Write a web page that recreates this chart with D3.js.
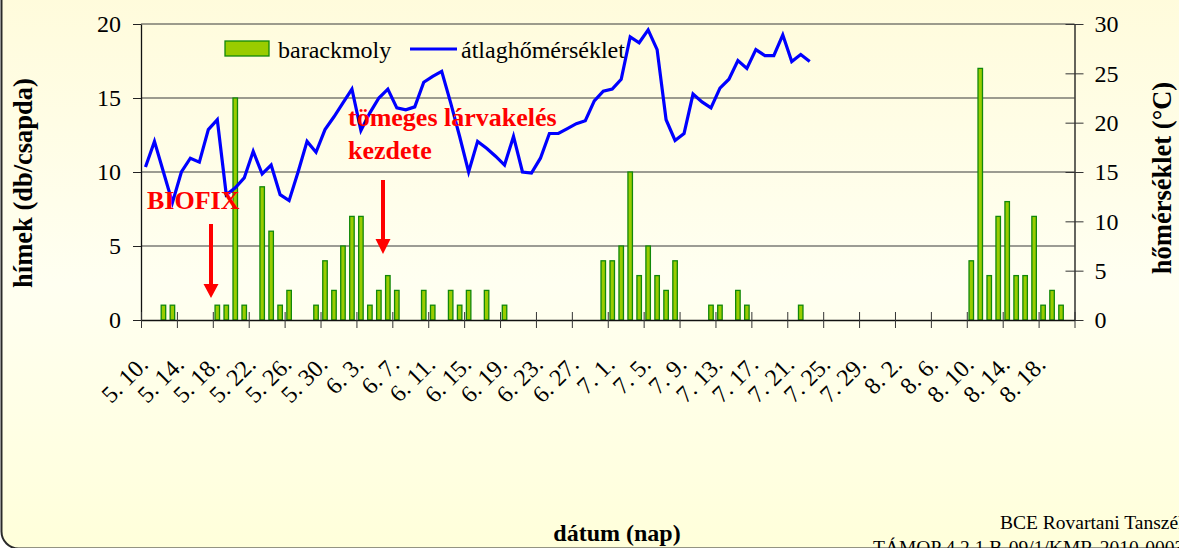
<!DOCTYPE html>
<html><head><meta charset="utf-8">
<script src="https://cdn.jsdelivr.net/npm/d3@7"></script>
<style>
body{margin:0;background:#fff}
svg{display:block}
text{font-family:"Liberation Serif","Times New Roman",serif}
</style>
</head><body>
<svg id="c" width="1179" height="548"></svg>
<script>
// ---- data ----
const startDate = new Date(2010, 4, 10);   // 5. 10.
const endDate   = new Date(2010, 7, 22);   // exclusive -> last category 8. 21.
const tickLabels = ["5. 10.","5. 14.","5. 18.","5. 22.","5. 26.","5. 30.","6. 3.","6. 7.","6. 11.","6. 15.","6. 19.","6. 23.","6. 27.",
  "7. 1.","7. 5.","7. 9.","7. 13.","7. 17.","7. 21.","7. 25.","7. 29.","8. 2.","8. 6.","8. 10.","8. 14.","8. 18."];
const labelEvery = 4;
// barackmoly (hímek / csapda), one value per day
const moths = [
  0,0,1,1,0,0,0,0,1,1,
  15,1,0,9,6,1,2,0,0,1,
  4,2,5,7,7,1,2,3,2,0,
  0,2,1,0,2,1,2,0,2,0,
  1,0,0,0,0,0,0,0,0,0,
  0,4,4,5,10,3,5,3,2,4,
  0,0,0,1,1,0,2,1,0,0,
  0,0,0,1,0,0,0,0,0,0,
  0,0,0,0,0,0,0,0,0,0,
  0,0,4,17,3,7,8,3,3,7,
  1,2,1,0
];
// átlaghőmérséklet (°C), daily
const temps = [
  15.5,18.1,15.0,11.9,15.0,16.4,16.0,19.3,20.3,12.7,
  13.4,14.4,17.1,14.8,15.7,12.7,12.1,15.0,18.1,17.0,
  19.3,20.6,22.0,23.4,19.2,21.0,22.5,23.4,21.5,21.3,
  21.6,24.1,24.7,25.2,22.0,18.6,15.0,18.1,17.4,16.6,
  15.7,18.6,15.0,14.9,16.4,18.9,18.9,19.4,19.9,20.2,
  22.2,23.2,23.4,24.4,28.7,28.1,29.4,27.4,20.3,18.2,
  18.9,22.9,22.1,21.5,23.5,24.4,26.3,25.5,27.4,26.8,
  26.8,28.9,26.2,26.9,26.2
];
const leftTicks = [0,5,10,15,20];
const rightTicks = [0,5,10,15,20,25,30];

// ---- layout ----
const W = 1179, H = 548;
const L = 141, R = 1074.5, T = 24, B = 320;
const svg = d3.select("#c");
const days = d3.timeDay.range(startDate, endDate);
const N = days.length;

const defs = svg.append("defs");
const g = defs.append("linearGradient").attr("id","bg").attr("x1",0).attr("y1",0).attr("x2",0).attr("y2",1);
g.append("stop").attr("offset","0%").attr("stop-color","#fffbd9");
g.append("stop").attr("offset","55%").attr("stop-color","#fffff1");
g.append("stop").attr("offset","100%").attr("stop-color","#ffffda");

svg.append("rect").attr("x",0).attr("y",0).attr("width",W).attr("height",H).attr("fill","#ffffff");
svg.append("rect").attr("x",1.5).attr("y",-40).attr("width",1300).attr("height",588.5)
  .attr("rx",17).attr("fill","url(#bg)").attr("stroke","#2a2a2a").attr("stroke-width",2);

const x = d3.scaleBand().domain(d3.range(N)).range([L, R]).padding(0);
const xLin = d3.scaleLinear().domain([0, N]).range([L, R]);
const yL = d3.scaleLinear().domain([0, 20]).range([B, T]);
const yR = d3.scaleLinear().domain([0, 30]).range([B, T]);
const bw = x.bandwidth();

// gridlines
svg.append("g").selectAll("line").data(leftTicks.filter(v => v > 0)).join("line")
  .attr("x1", L).attr("x2", R).attr("y1", d => yL(d)).attr("y2", d => yL(d))
  .attr("stroke", "#3a3a3a").attr("stroke-width", 1.2);

// bars
svg.append("g").selectAll("rect").data(moths.map((v,i)=>({v,i})).filter(d => d.v > 0)).join("rect")
  .attr("x", d => x(d.i) + bw*0.25).attr("width", bw*0.5)
  .attr("y", d => yL(d.v)).attr("height", d => B - yL(d.v))
  .attr("fill", "#99cc00").attr("stroke", "#11880a").attr("stroke-width", 1.3);

// line
svg.append("path").datum(temps)
  .attr("d", d3.line().x((d,i) => x(i) + bw/2).y(d => yR(d)))
  .attr("fill","none").attr("stroke","#0000ff").attr("stroke-width",3.2).attr("stroke-linejoin","miter");

// left axis
const ax = svg.append("g").attr("transform",`translate(${L},0)`)
  .call(d3.axisLeft(yL).tickValues(leftTicks).tickSize(8).tickSizeOuter(0).tickPadding(12));
ax.select(".domain").attr("stroke","#111").attr("stroke-width",1.3);
ax.selectAll(".tick line").attr("stroke","#222");
ax.selectAll("text").attr("font-size",24).attr("font-family","Liberation Serif").attr("fill","#000");

// right axis
const ar = svg.append("g").attr("transform",`translate(${R},0)`)
  .call(d3.axisRight(yR).tickValues(rightTicks).tickSize(9).tickSizeOuter(0).tickPadding(11));
ar.select(".domain").attr("stroke","#111").attr("stroke-width",1.3);
ar.selectAll(".tick line").attr("x1",-9).attr("stroke","#333");
ar.selectAll("text").attr("font-size",24).attr("font-family","Liberation Serif").attr("fill","#000");

// x axis ticks (between categories)
const xt = svg.append("g").attr("transform",`translate(0,${B})`)
  .call(d3.axisBottom(xLin).tickValues(d3.range(0, N+1, labelEvery)).tickSize(8).tickSizeOuter(0).tickFormat(""));
xt.select(".domain").attr("stroke","#111").attr("stroke-width",1.3);
xt.selectAll(".tick line").attr("y1",-8).attr("stroke","#333");

// x labels
const xl = svg.append("g").attr("transform",`translate(0,${B})`)
  .call(d3.axisBottom(x).tickValues(d3.range(0, N, labelEvery)).tickSize(0)
     .tickFormat(i => tickLabels[i/labelEvery]));
xl.select(".domain").remove();
xl.selectAll("text")
  .attr("font-size",24).attr("font-family","Liberation Serif").attr("fill","#000")
  .attr("text-anchor","end").attr("dy",null).attr("y",0)
  .attr("transform","translate(4,46) rotate(-45)");

// axis titles
svg.append("text").attr("transform","translate(32,183) rotate(-90)").attr("text-anchor","middle")
  .attr("font-size",26.5).attr("font-weight","bold").text("hímek (db/csapda)");
svg.append("text").attr("transform","translate(1171,178) rotate(-90)").attr("text-anchor","middle")
  .attr("font-size",26.5).attr("font-weight","bold").text("hőmérséklet (°C)");
svg.append("text").attr("x",617).attr("y",541).attr("text-anchor","middle")
  .attr("font-size",24).attr("font-weight","bold").text("dátum (nap)");

// legend
svg.append("rect").attr("x",225).attr("y",41).attr("width",44).attr("height",15)
  .attr("fill","#99cc00").attr("stroke","#11880a").attr("stroke-width",1.3);
svg.append("text").attr("x",278).attr("y",58).attr("font-size",24).text("barackmoly");
svg.append("line").attr("x1",410).attr("x2",457).attr("y1",49).attr("y2",49)
  .attr("stroke","#0000ff").attr("stroke-width",3);
svg.append("text").attr("x",461).attr("y",58).attr("font-size",24).text("átlaghőmérséklet");

// annotations
const red = "#ff0000";
svg.append("text").attr("x",147).attr("y",209).attr("font-size",26).attr("font-weight","bold").attr("fill",red).text("BIOFIX");
svg.append("text").attr("x",348).attr("y",126).attr("font-size",26).attr("font-weight","bold").attr("fill",red).text("tömeges lárvakelés");
svg.append("text").attr("x",348).attr("y",159).attr("font-size",26).attr("font-weight","bold").attr("fill",red).text("kezdete");
function arrow(cx, y0, y1, headLen){
  const hw = 7.5, sw = 2;
  svg.append("path").attr("fill",red)
    .attr("d",`M${cx-sw},${y0}L${cx+sw},${y0}L${cx+sw},${y1-headLen}L${cx+hw},${y1-headLen}L${cx},${y1}L${cx-hw},${y1-headLen}L${cx-sw},${y1-headLen}Z`);
}
arrow(211, 224, 298, 14);
arrow(383, 180, 254, 15);

// footer
svg.append("text").attr("x",1000).attr("y",529).attr("font-size",19.5).text("BCE Rovartani Tanszék");
svg.append("text").attr("x",873).attr("y",554).attr("font-size",19.5).text("TÁMOP 4.2.1.B-09/1/KMR-2010-0003");
</script>
</body></html>
